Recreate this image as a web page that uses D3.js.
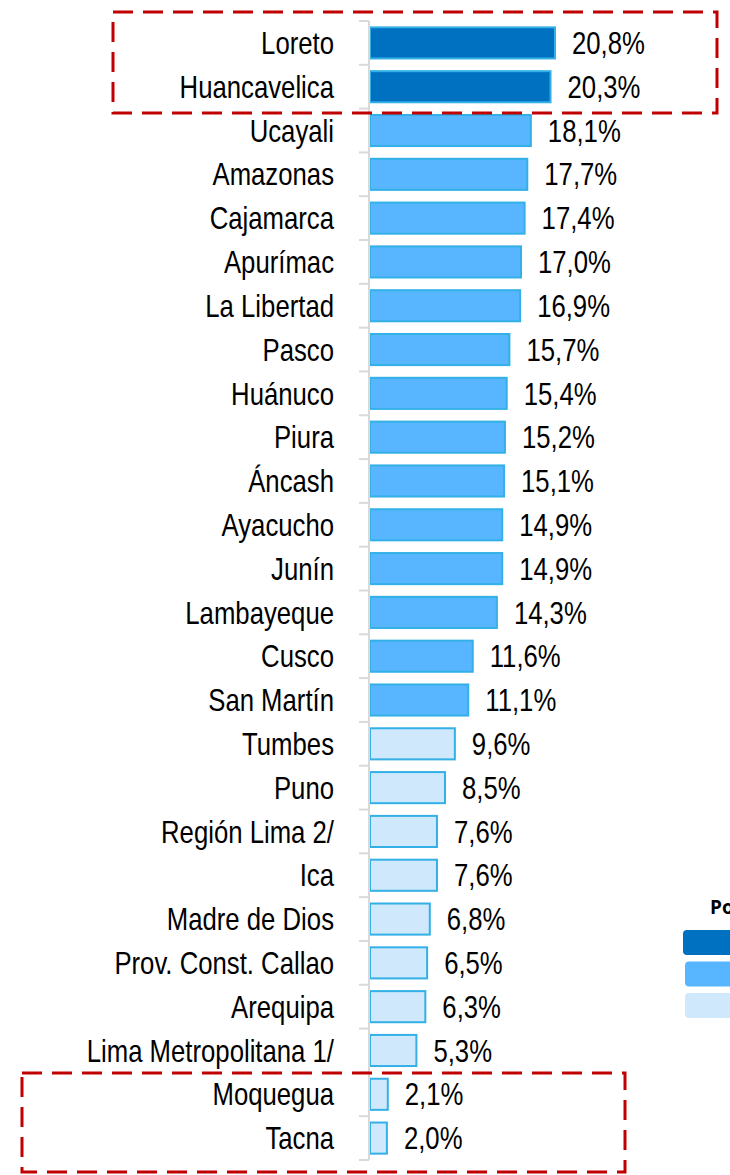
<!DOCTYPE html>
<html>
<head>
<meta charset="utf-8">
<script src="https://cdn.jsdelivr.net/npm/d3@7"></script>
<style>
  body { margin: 0; background: #fff; overflow: hidden; }
  svg { display: block; }
</style>
</head>
<body>
<script>
// regions, sorted high to low
const regions = ['Loreto', 'Huancavelica', 'Ucayali', 'Amazonas', 'Cajamarca', 'Apurímac',
    'La Libertad', 'Pasco', 'Huánuco', 'Piura', 'Áncash', 'Ayacucho', 'Junín', 'Lambayeque',
    'Cusco', 'San Martín', 'Tumbes', 'Puno', 'Región Lima 2/', 'Ica', 'Madre de Dios',
    'Prov. Const. Callao', 'Arequipa', 'Lima Metropolitana 1/', 'Moquegua', 'Tacna'];
const values = [20.8, 20.3, 18.1, 17.7, 17.4, 17.0, 16.9, 15.7, 15.4, 15.2, 15.1, 14.9, 14.9,
    14.3, 11.6, 11.1, 9.6, 8.5, 7.6, 7.6, 6.8, 6.5, 6.3, 5.3, 2.1, 2.0];
// level group for each bar: 0 high, 1 middle, 2 low
const groups = values.map(v => v >= 20 ? 0 : v >= 10 ? 1 : 2);
const groupColors = ['#0070c0', '#57b6ff', '#cfe8fc'];
const legendTitle = 'Pobreza';

const width = 730, height = 1175;
const x0 = 369;

const svg = d3.select('body').append('svg')
    .attr('width', width)
    .attr('height', height);

const y = d3.scaleBand()
    .domain(regions)
    .range([21, 1160])
    .paddingInner(0.29)
    .paddingOuter(0.145);

const x = d3.scaleLinear()
    .domain([0, 20.8])
    .range([x0, 555]);

// no narrow font installed, so squeeze a regular one horizontally
const fontFamily = '"Liberation Sans Narrow", "Arial Narrow", "Liberation Sans", sans-serif';
const squeeze = 0.83;

// bars
svg.append('g')
    .selectAll('rect')
    .data(regions)
    .enter().append('rect')
    .attr('x', x(0) + 1)
    .attr('y', d => y(d))
    .attr('width', (d, i) => x(values[i]) - x(0) - 1)
    .attr('height', y.bandwidth())
    .attr('fill', (d, i) => groupColors[groups[i]])
    .attr('stroke', '#33b0e6')
    .attr('stroke-width', 2);

// axis on the left edge, ticks between categories
const step = y.step();
const axisG = svg.append('g').attr('stroke', '#d9d9d9').attr('stroke-width', 2);
axisG.append('line')
    .attr('x1', x0).attr('x2', x0)
    .attr('y1', 21).attr('y2', 1160);
axisG.selectAll('line.tick')
    .data(d3.range(regions.length + 1))
    .enter().append('line')
    .attr('class', 'tick')
    .attr('x1', x0 - 10).attr('x2', x0)
    .attr('y1', i => 21 + i * step)
    .attr('y2', i => 21 + i * step);

// category labels
svg.append('g')
    .selectAll('text')
    .data(regions)
    .enter().append('text')
    .attr('transform', d => `translate(334,${y(d) + y.bandwidth() / 2}) scale(${squeeze},1)`)
    .attr('dy', '0.36em')
    .attr('text-anchor', 'end')
    .style('font-family', fontFamily)
    .style('font-size', '31px')
    .attr('fill', '#000')
    .text(d => d);

// value labels
svg.append('g')
    .selectAll('text')
    .data(regions)
    .enter().append('text')
    .attr('transform', (d, i) => `translate(${x(values[i]) + 17},${y(d) + y.bandwidth() / 2}) scale(${squeeze},1)`)
    .attr('dy', '0.36em')
    .style('font-family', fontFamily)
    .style('font-size', '31px')
    .attr('fill', '#000')
    .text((d, i) => d3.format('.1f')(values[i]).replace('.', ',') + '%');

// highlight boxes
const boxes = [
    { x: 113, y: 12, w: 604, h: 101 },
    { x: 22, y: 1073, w: 603, h: 99 }];
svg.append('g')
    .selectAll('rect')
    .data(boxes)
    .enter().append('rect')
    .attr('x', d => d.x).attr('y', d => d.y)
    .attr('width', d => d.w).attr('height', d => d.h)
    .attr('fill', 'none')
    .attr('stroke', '#c00000')
    .attr('stroke-width', 3)
    .attr('stroke-dasharray', '20 10');

// legend, cut by the right edge as in the source
const legend = svg.append('g');
legend.append('text')
    .attr('x', 710).attr('y', 914)
    .style('font-family', '"Open Sans", "Noto Sans", sans-serif')
    .style('font-size', '19px')
    .style('font-weight', 'bold')
    .text(legendTitle);
legend.selectAll('rect')
    .data(groupColors)
    .enter().append('rect')
    .attr('x', (d, i) => i === 0 ? 683 : 685)
    .attr('y', (d, i) => 930 + i * 31.5)
    .attr('width', 80)
    .attr('height', 25)
    .attr('rx', 4)
    .attr('fill', d => d);
</script>
</body>
</html>
